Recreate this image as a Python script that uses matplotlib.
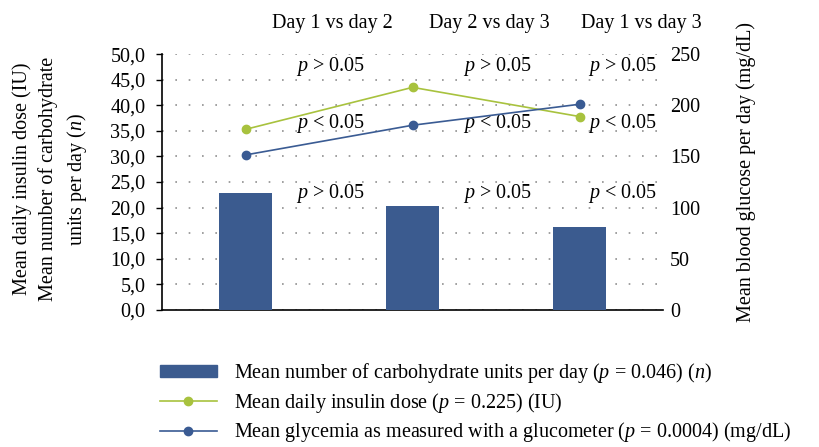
import matplotlib
matplotlib.use("Agg")
from matplotlib import pyplot as plt
from matplotlib.lines import Line2D
from matplotlib.patches import Patch

plt.rcParams['font.family'] = 'Liberation Serif'
plt.rcParams['mathtext.fontset'] = 'custom'
plt.rcParams['mathtext.rm'] = 'Liberation Serif'
plt.rcParams['mathtext.it'] = 'Liberation Serif:italic'

# data
days = ['Day 1', 'Day 2', 'Day 3']
carb_units = [22.9, 20.3, 16.2]          # bars, left axis
insulin_dose = [35.3, 43.5, 37.8]        # green line, left axis
glycemia = [151.5, 180.5, 201.0]         # blue line, right axis

comparisons = ['Day 1 vs day 2', 'Day 2 vs day 3', 'Day 1 vs day 3']
p_insulin = ['> 0.05', '> 0.05', '> 0.05']
p_glyc = ['< 0.05', '< 0.05', '< 0.05']
p_carb = ['> 0.05', '> 0.05', '< 0.05']

bar_col = '#3b5b8f'
green = '#a8c23e'
blue = '#3a5b93'
fs = 14.5

fig = plt.figure(figsize=(8.19, 4.47), dpi=100)
ax = fig.add_axes([0.198, 0.3065, 0.6115, 0.5725])
x = list(range(len(days)))

ax.bar(x, carb_units, width=0.32, color=bar_col, zorder=3)
ax.plot(x, insulin_dose, color=green, lw=1.2, marker='o', ms=6, zorder=4)
ax.set_xlim(-0.5, 2.5)
ax.set_ylim(0, 50)
ax.set_yticks(range(0, 51, 5))
ax.set_yticklabels([f'{v},0' for v in range(0, 51, 5)], fontsize=fs)
ax.set_xticks([])
ax.grid(axis='y', color='#909090', linestyle=(0, (1, 7)), lw=1.2, zorder=1)
for s in ['top', 'right']:
    ax.spines[s].set_visible(False)
ax.spines['left'].set_linewidth(1.2)
ax.spines['bottom'].set_linewidth(1.2)
ax.tick_params(axis='y', length=4, width=1, pad=8)

ax2 = ax.twinx()
ax2.plot(x, glycemia, color=blue, lw=1.2, marker='o', ms=6, zorder=5)
ax2.set_ylim(0, 250)
ax2.set_yticks(range(0, 251, 50))
ax2.set_yticklabels([str(v) for v in range(0, 251, 50)], fontsize=fs)
ax2.tick_params(axis='y', length=0, pad=5)
for s in ['top', 'right', 'left', 'bottom']:
    ax2.spines[s].set_visible(False)

# comparison headers and p-values
col_x = [0.51, 1.51, 2.255]
head_x = [0.52, 1.46, 2.37]
for i in range(3):
    ax.text(head_x[i], 55.9, comparisons[i], ha='center', va='center',
            fontsize=fs, clip_on=False)
    ax.text(col_x[i], 47.6, r'$\mathit{p}$ ' + p_insulin[i], ha='center',
            va='center', fontsize=fs, zorder=6)
    ax.text(col_x[i], 36.4, r'$\mathit{p}$ ' + p_glyc[i], ha='center',
            va='center', fontsize=fs, zorder=6)
    ax.text(col_x[i], 22.7, r'$\mathit{p}$ ' + p_carb[i], ha='center',
            va='center', fontsize=fs, zorder=6)

fig.text(0.0615, 0.60, 'Mean daily insulin dose (IU)\nMean number of carbohydrate\n'
         r'units per day ($\mathit{n}$)', rotation=90, ha='center', va='center',
         fontsize=fs, linespacing=1.42, multialignment='center')
fig.text(0.911, 0.615, 'Mean blood glucose per day (mg/dL)', rotation=90,
         ha='center', va='center', fontsize=fs)

handles = [
    Patch(color=bar_col),
    Line2D([], [], color=green, lw=1.2, marker='o', ms=6),
    Line2D([], [], color=blue, lw=1.2, marker='o', ms=6),
]
labels = [
    r'Mean number of carbohydrate units per day ($\mathit{p}$ = 0.046) ($\mathit{n}$)',
    r'Mean daily insulin dose ($\mathit{p}$ = 0.225) (IU)',
    r'Mean glycemia as measured with a glucometer ($\mathit{p}$ = 0.0004) (mg/dL)',
]
fig.legend(handles, labels, loc='upper left', bbox_to_anchor=(0.185, 0.21),
           frameon=False, fontsize=fs, handlelength=2.85, handleheight=0.6,
           labelspacing=0.28, handletextpad=0.85, borderaxespad=0)

fig.savefig('out.png', dpi=100)
